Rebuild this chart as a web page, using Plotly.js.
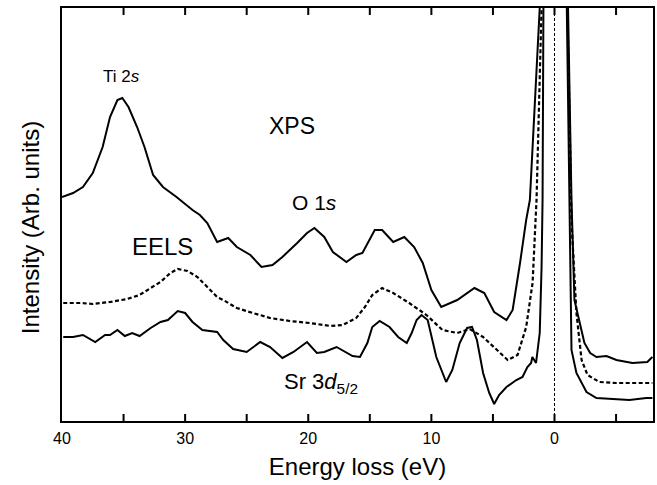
<!DOCTYPE html>
<html>
<head>
<meta charset="utf-8">
<script src="https://cdn.plot.ly/plotly-3.0.1.min.js"></script>
<style>html,body{margin:0;padding:0;background:#fff;}#chart{width:657px;height:485px;}</style>
</head>
<body>
<div id="chart"></div>
<script>
// Energy loss (eV) and intensity (arb. units)
var xpsEnergy = [40.0, 39.1, 38.3, 37.5, 36.7, 36.1, 35.5, 35.1, 34.6, 33.9, 33.3, 32.6, 31.8, 30.7, 29.4, 28.8, 28.2, 27.4, 26.5, 25.8, 24.7, 23.8, 22.9, 22.1, 20.9, 20.1, 19.5, 18.7, 18.0, 16.9, 16.1, 15.6, 14.6, 14.0, 13.1, 12.2, 11.4, 10.7, 10.0, 9.2, 7.9, 6.5, 5.7, 4.9, 3.9, 3.4, 2.8, 2.3, 2.0, 1.2, 0.0, -1.1, -1.38, -1.62, -2.43, -2.9, -3.41, -4.22, -5.03, -6.33, -7.54, -7.95];
var xpsIntensity = [224, 228, 234, 248, 274, 304, 321, 323, 314, 294, 274, 246, 234, 224, 211, 206, 198, 179, 183, 174, 166, 154, 156, 164, 178, 188, 193, 184, 169, 159, 166, 168, 191, 191, 179, 184, 174, 158, 131, 114, 121, 133, 128, 109, 101, 111, 158, 201, 221, 413, 2500, 413, 221, 121, 78, 68, 64, 65, 61, 58, 59, 64];

var eelsEnergy = [39.9, 38.5, 37.5, 36.1, 34.7, 33.7, 32.8, 32.0, 31.2, 30.6, 29.8, 29.0, 28.2, 27.4, 26.9, 25.8, 24.5, 23.1, 21.5, 19.9, 18.2, 17.2, 16.1, 15.4, 14.8, 14.0, 13.1, 11.8, 10.4, 9.1, 7.9, 6.9, 5.8, 4.7, 3.8, 3.0, 2.3, 1.78, 1.46, 1.05, 0.0, -1.05, -1.38, -1.78, -2.2, -2.68, -3.65, -5.03, -7.95];
var eelsIntensity = [118, 118, 117, 119, 122, 126, 133, 139, 148, 152, 150, 144, 134, 124, 121, 113, 108, 103, 100, 98, 95, 96, 103, 114, 126, 133, 128, 118, 106, 91, 88, 92, 84, 71, 61, 66, 94, 138, 221, 413, 2500, 413, 200, 108, 61, 46, 39, 38, 38];

var srEnergy = [39.9, 39.1, 38.3, 37.3, 36.5, 36.1, 35.5, 34.9, 34.3, 33.7, 32.8, 32.0, 31.4, 30.6, 30.0, 29.4, 28.6, 27.8, 27.4, 26.9, 26.1, 25.0, 23.9, 23.1, 22.1, 21.2, 20.1, 19.3, 18.7, 17.7, 16.4, 15.8, 15.2, 14.8, 14.2, 13.4, 12.7, 12.0, 11.6, 11.2, 10.8, 10.3, 9.6, 8.8, 8.3, 7.7, 7.1, 6.7, 6.3, 5.8, 5.3, 4.9, 4.5, 3.9, 3.1, 2.6, 2.2, 1.9, 1.8, 1.5, 1.2, 1.05, 0.97, 0.9, 0.0, -1.0, -1.3, -1.38, -1.78, -2.6, -3.41, -4.46, -6.08, -7.46, -7.95];
var srIntensity = [84, 84, 86, 79, 86, 86, 91, 85, 88, 85, 93, 99, 101, 110, 108, 99, 91, 90, 89, 81, 72, 69, 79, 74, 63, 69, 79, 68, 69, 74, 65, 64, 78, 94, 100, 94, 84, 78, 88, 101, 106, 101, 64, 39, 51, 78, 93, 94, 81, 48, 28, 17, 26, 34, 41, 44, 54, 58, 64, 58, 88, 154, 221, 413, 2500, 413, 121, 71, 48, 29, 23, 22, 21, 23, 23];

var labelTicks = [40, 30, 20, 10, 0];
var markTicks = [35, 30, 25, 20, 15, 10, 5, 0, -5];

var FONT = 'Liberation Sans, Arial, Helvetica, sans-serif';

var traces = [
  {x: xpsEnergy, y: xpsIntensity, mode: 'lines', name: 'XPS',
   line: {color: '#000', width: 2}},
  {x: eelsEnergy, y: eelsIntensity, mode: 'lines', name: 'EELS',
   line: {color: '#000', width: 2.2, dash: '4px,2.5px'}},
  {x: srEnergy, y: srIntensity, mode: 'lines', name: 'Sr 3d5/2',
   line: {color: '#000', width: 2}}
];

// inward tick marks on bottom and top edges
var TICK_FRAC = 7 / 413;
var shapes = [
  {type: 'line', xref: 'x', yref: 'paper', x0: 0, x1: 0, y0: 0, y1: 1,
   line: {color: '#000', width: 1, dash: '3px,2px'}}
];
markTicks.forEach(function (v) {
  shapes.push({type: 'line', xref: 'x', yref: 'paper', x0: v, x1: v, y0: 0, y1: TICK_FRAC,
               line: {color: '#000', width: 2}});
  shapes.push({type: 'line', xref: 'x', yref: 'paper', x0: v, x1: v, y0: 1 - TICK_FRAC, y1: 1,
               line: {color: '#000', width: 2}});
});

var layout = {
  width: 657, height: 485,
  margin: {l: 62, r: 4, t: 8, b: 64},
  paper_bgcolor: '#fff', plot_bgcolor: '#fff',
  showlegend: false,
  font: {family: FONT, color: '#000'},
  xaxis: {
    range: [40, -8], showgrid: false, zeroline: false,
    showline: true, linecolor: '#000', linewidth: 2, mirror: true,
    ticks: '', tickmode: 'array', tickvals: labelTicks,
    tickfont: {size: 16, family: FONT, color: '#000'},
    ticklabelstandoff: 2,
    title: {text: 'Energy loss (eV)', font: {size: 24, family: FONT, color: '#000'}, standoff: 12}
  },
  yaxis: {
    range: [0, 413], showgrid: false, zeroline: false,
    showline: true, linecolor: '#000', linewidth: 2, mirror: true,
    ticks: '', showticklabels: false
  },
  shapes: shapes,
  annotations: [
    {xref: 'paper', yref: 'paper', x: -0.054, y: 0.467, xanchor: 'center', yanchor: 'middle',
     text: 'Intensity (Arb. units)', textangle: -90, showarrow: false,
     font: {size: 24, family: FONT, color: '#000'}},
    {x: 35.2, y: 345, text: 'Ti 2<i>s</i>', showarrow: false, font: {size: 17}},
    {x: 21.3, y: 295, text: 'XPS', showarrow: false, font: {size: 23}},
    {x: 19.5, y: 219, text: 'O 1<i>s</i>', showarrow: false, font: {size: 21}},
    {x: 31.8, y: 175, text: 'EELS', showarrow: false, font: {size: 24}},
    {x: 22.1, y: 38, xanchor: 'left', text: 'Sr 3<i>d</i><sub>5/2</sub>', showarrow: false, font: {size: 22}}
  ]
};

Plotly.newPlot('chart', traces, layout, {displayModeBar: false, staticPlot: true});
</script>
</body>
</html>
